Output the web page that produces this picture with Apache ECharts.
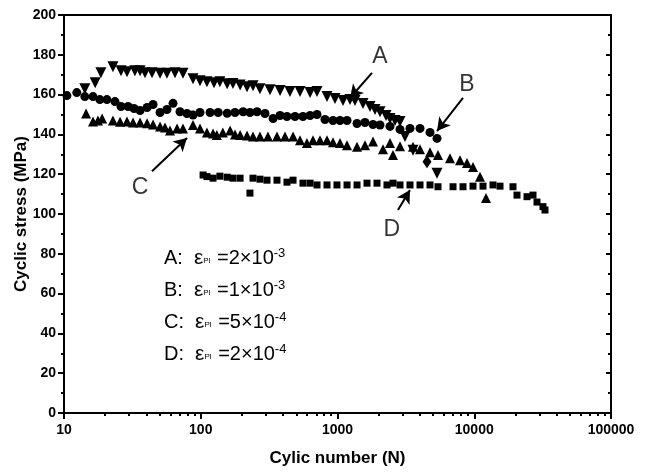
<!DOCTYPE html>
<html>
<head>
<meta charset="utf-8">
<script src="https://cdn.jsdelivr.net/npm/echarts@6/dist/echarts.min.js"></script>
<style>
  html, body { margin: 0; padding: 0; background: #fff; }
  #main { width: 652px; height: 472px; }
</style>
</head>
<body>
<div id="main"></div>
<script>
// A: eps_pl = 2e-3 (down triangles)
const nA = [14.2, 16.9, 18.6, 22.8, 26.1, 28.9, 33.0, 36.0, 39.1, 44.0, 50.4, 56.6, 64.8, 74.2, 87.8, 98.7,
  111, 125, 138, 156, 172, 194, 218, 241, 271, 321, 380, 449, 532, 630, 708, 838, 959, 1097, 1234, 1343,
  1537, 1729, 1880, 2046, 2263, 2420, 2633, 2864, 3115, 3565, 5342];
const sA = [163, 166, 171, 174, 172, 171.5, 172, 172, 171, 171, 170.7, 170.7, 171, 170.7, 168, 167,
  166.5, 166, 166.5, 165.5, 165.6, 164.8, 164, 164.5, 163, 162.5, 162, 161.5, 161.5, 161, 161.5, 159, 158, 157, 157.5, 157,
  155.5, 154, 152.5, 151.4, 149.5, 148, 147, 146.5, 139, 132, 120.5];
// extra diamond point near the end of A
const nA2 = [4513];
const sA2 = [126.3];

// B: eps_pl = 1e-3 (circles)
const nB = [10.5, 12.4, 14.2, 16.3, 18.3, 20.6, 23.6, 26.1, 29.4, 32.5, 36.0, 40.5, 44.8, 50.4, 56.6, 62.7,
  70.5, 79.3, 87.8, 98.7, 117, 134, 156, 178, 204, 229, 258, 295, 338, 380, 427, 489, 559, 630, 708, 810,
  927, 1043, 1174, 1389, 1589, 1818, 2046, 2420, 2864, 3390, 4012, 4748, 5342];
const sB = [159.5, 161, 159, 159, 157.5, 157.5, 156.5, 154, 154, 153, 152, 153.5, 155, 151, 152.5, 155.6,
  151.4, 150.5, 149.7, 151, 151, 151, 150.6, 151, 151.4, 151, 151.4, 150.5, 148, 149.5, 149, 149, 149, 149.5, 150, 147.5,
  147, 147, 147, 145.5, 146, 145, 144.7, 144, 142.5, 143, 143, 141, 138];

// C: eps_pl = 5e-4 (up triangles)
const nC = [14.5, 16.3, 17.7, 19.0, 22.8, 25.7, 28.9, 32.0, 36.0, 40.5, 44.8, 50.4, 54.8, 59.6, 67.1, 74.2,
  87.8, 98.7, 111, 123, 131, 145, 164, 178, 194, 218, 241, 271, 310, 361, 413, 473, 532, 598, 662, 745, 838,
  927, 1043, 1174, 1389, 1589, 1818, 2151, 2420, 2547, 2864, 3565, 4012, 4748, 5432, 6648, 7866, 8851, 9792,
  11020, 12190];
const sC = [150.5, 146.5, 147, 148, 147, 146.4, 146.5, 146, 146, 145.6, 145, 144, 143.5, 142, 143, 143,
  144.7, 143, 141, 140.5, 139.7, 141, 142, 140, 139.7, 139.5, 139, 139, 139, 139, 139, 139, 137, 135.7, 137, 137, 137,
  136, 135.7, 134.5, 133.8, 134.5, 136.4, 132.5, 135.7, 129.6, 134, 133.8, 132.5, 131, 129.6, 128, 127, 125.6, 123.6,
  118.7, 108];

// D: eps_pl = 2e-4 (squares)
const nD = [104, 111, 123, 138, 156, 172, 194, 229, 241, 271, 305, 361, 427, 473, 559, 630, 708, 838, 991,
  1174, 1389, 1643, 1945, 2301, 2547, 2864, 3390, 4012, 4748, 5432, 6995, 8275, 9792, 11590, 13710, 15430,
  19200, 20540, 24310, 26890, 28760, 31820, 32910];
const sD = [119.6, 118.8, 118, 119, 118.5, 118, 118, 110.5, 118, 117.5, 117, 117, 116, 117, 115.5, 115.5,
  114.6, 114.6, 114.6, 114.6, 114.6, 115.5, 115.5, 114.6, 115.5, 114.6, 114.6, 114.6, 114.6, 113.7, 113.7, 113.7,
  114, 114, 114.6, 114, 113.7, 109.5, 108.7, 109.5, 106, 103.7, 102];

// annotation letters and arrows (data space)
const markNames = ['A', 'B', 'C', 'D'];
const markPos = [[2046, 178.9], [8851, 164.8], [36, 113], [2500, 92]];
const arrowFrom = [[1787, 170.9], [8275, 158.3], [44, 121.5], [2768, 102]];
const arrowTo = [[1234, 158.3], [5342, 141.7], [79.3, 138.2], [3388, 112]];

const legendLines = [
  ['A:', '2', '-3'],
  ['B:', '1', '-3'],
  ['C:', '5', '-4'],
  ['D:', '2', '-4']
];

const xMinorTicks = [];
[10, 100, 1000, 10000].forEach(d => {
  for (let k = 2; k <= 9; k++) xMinorTicks.push(k * d);
});

const zip = (xs, ys) => xs.map((x, i) => [x, ys[i]]);
const font = "'Liberation Sans', Arial, sans-serif";

const chart = echarts.init(document.getElementById('main'));

const baseSeries = (data, symbol, size, rotate) => ({
  type: 'scatter',
  data: data,
  symbol: symbol,
  symbolSize: size,
  symbolRotate: rotate || 0,
  itemStyle: { color: '#000', opacity: 1 },
  silent: true
});

const legendGraphics = legendLines.map((l, i) => ({
  type: 'text',
  left: 164,
  top: 247 + i * 32,
  style: {
    text: '{t|' + l[0] + '  }{e|ε}{s|Pl}{t| =' + l[1] + '×10}{p|' + l[2] + '}',
    rich: {
      t: { fontSize: 20, fontFamily: font, fill: '#000' },
      e: { fontSize: 21, fontFamily: font, fill: '#000' },
      s: { fontSize: 8, fontFamily: font, fill: '#000', padding: [5, 1, 0, 0] },
      p: { fontSize: 13, fontFamily: font, fill: '#000', verticalAlign: 'top', padding: [0, 0, 9, 0] }
    }
  }
}));

const option = {
  animation: false,
  backgroundColor: '#fff',
  grid: {
    left: 64, right: 41, top: 15, bottom: 59,
    outerBoundsMode: 'none',
    show: true, borderColor: '#000', borderWidth: 2, backgroundColor: 'transparent'
  },
  xAxis: [{
    type: 'log',
    logBase: 10,
    min: 10,
    max: 100000,
    name: 'Cylic number (N)',
    nameLocation: 'middle',
    nameGap: 37,
    nameMoveOverlap: false,
    nameTextStyle: { fontSize: 17, fontWeight: 'bold', fontFamily: font, color: '#000' },
    axisLine: { show: true, lineStyle: { color: '#000', width: 2 } },
    axisTick: { show: true, inside: false, length: 6, lineStyle: { color: '#000', width: 2 } },
    axisLabel: {
      margin: 10, fontSize: 14, fontWeight: 'bold', fontFamily: font, color: '#000',
      formatter: v => String(Math.round(v))
    },
    splitLine: { show: false }
  }, {
    type: 'log',
    logBase: 10,
    min: 10,
    max: 100000,
    position: 'bottom',
    axisLine: { show: false },
    axisTick: { show: true, inside: false, length: 3, customValues: xMinorTicks, lineStyle: { color: '#000', width: 2 } },
    axisLabel: { show: false },
    splitLine: { show: false }
  }],
  yAxis: [{
    type: 'value',
    min: 0,
    max: 200,
    interval: 20,
    name: 'Cyclic stress (MPa)',
    nameLocation: 'middle',
    nameGap: 34,
    nameMoveOverlap: false,
    nameTextStyle: { fontSize: 17, fontWeight: 'bold', fontFamily: font, color: '#000' },
    axisLine: { show: true, lineStyle: { color: '#000', width: 2 } },
    axisTick: { show: true, inside: false, length: 6, lineStyle: { color: '#000', width: 2 } },
    minorTick: { show: true, splitNumber: 2, length: 3, lineStyle: { color: '#000', width: 2 } },
    axisLabel: { margin: 8, fontSize: 14, fontWeight: 'bold', fontFamily: font, color: '#000' },
    splitLine: { show: false }
  }, {
    type: 'value',
    min: 0,
    max: 200,
    interval: 20,
    position: 'right',
    axisLine: { show: false },
    axisTick: { show: true, inside: true, length: 5, lineStyle: { color: '#000', width: 2 } },
    minorTick: { show: true, splitNumber: 2, length: 3, lineStyle: { color: '#000', width: 2 } },
    axisLabel: { show: false },
    splitLine: { show: false }
  }],
  series: [
    baseSeries(zip(nD, sD), 'rect', 7),
    baseSeries(zip(nC, sC), 'triangle', 10),
    baseSeries(zip(nB, sB), 'circle', 9),
    baseSeries(zip(nA, sA), 'triangle', 11, 180),
    baseSeries(zip(nA2, sA2), 'diamond', [9, 13]),
    {
      type: 'scatter',
      silent: true,
      symbolSize: 1,
      itemStyle: { color: 'transparent' },
      data: markNames.map((n, i) => ({ name: n, value: markPos[i] })),
      label: {
        show: true, position: 'inside', formatter: '{b}',
        fontSize: 23, fontFamily: font, color: '#000'
      },
      markLine: {
        silent: true,
        symbol: ['none', 'arrow'],
        symbolSize: [11, 13],
        label: { show: false },
        lineStyle: { color: '#000', width: 2, type: 'solid' },
        data: arrowFrom.map((f, i) => [{ coord: f }, { coord: arrowTo[i] }])
      }
    }
  ],
  graphic: legendGraphics
};

chart.setOption(option);
window.addEventListener('resize', () => chart.resize());
</script>
</body>
</html>
